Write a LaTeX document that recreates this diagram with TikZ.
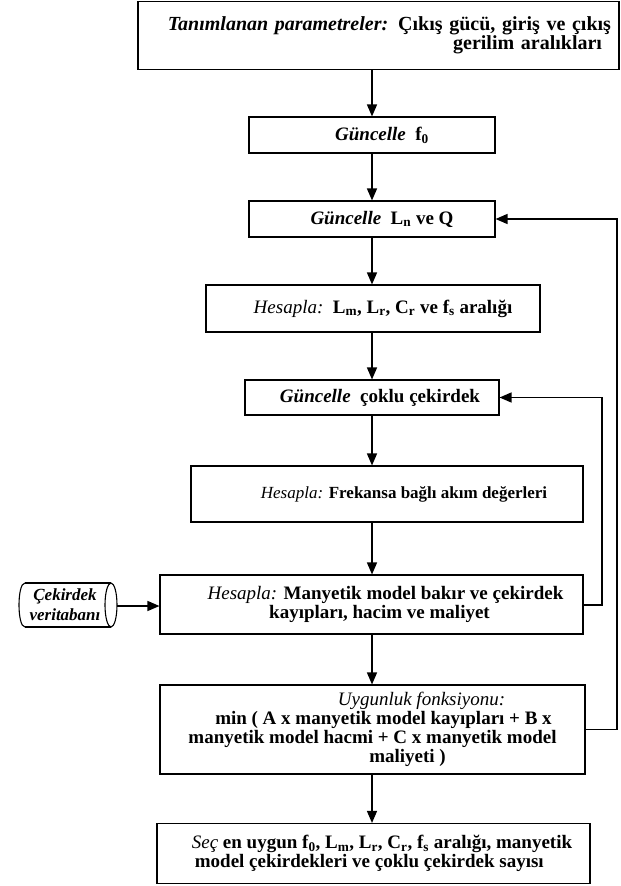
\documentclass[tikz,border=0pt]{standalone}
\usepackage{fontspec}
\setmainfont{Liberation Serif}
\usetikzlibrary{arrows.meta}
\newcommand\leadsp[1]{\hspace*{#1pt}}
\begin{document}
\begin{tikzpicture}[x=1pt,y=-1pt,
  box/.style={draw, line width=1.1pt, inner sep=2pt, font=\fontsize{19}{19}\selectfont\bfseries, align=center},
  dbtext/.style={inner sep=0pt, font=\fontsize{17}{20}\selectfont\bfseries\itshape, align=center},
  dbline/.style={line width=1.1pt},
  arr/.style={-{Triangle[length=12pt,width=10pt]}, line width=1.4pt}]
\useasboundingbox (0,0) rectangle (621,886);
\node[box, minimum width=481pt, minimum height=68pt, text width=465pt, align=right, font=\fontsize{20}{19}\selectfont\bfseries] (B1) at (378.5,35.5)
  {\textit{Tanımlanan parametreler:}\enspace Çıkış gücü, giriş ve çıkış\\ gerilim aralıkları\kern9pt};
\node[box, minimum width=246pt, minimum height=36pt] (B2) at (372,135)
  {\leadsp{20}\textit{Güncelle}\enspace f\textsubscript{0}};
\node[box, minimum width=246pt, minimum height=36pt] (B3) at (372,219)
  {\leadsp{20}\textit{Güncelle}\enspace L\textsubscript{n} ve Q};
\node[box, minimum width=334pt, minimum height=47pt] (B4) at (373,308.5)
  {\leadsp{20}\textit{\mdseries Hesapla:}\enspace L\textsubscript{m}, L\textsubscript{r}, C\textsubscript{r} ve f\textsubscript{s} aralığı};
\node[box, minimum width=254pt, minimum height=35pt] (B5) at (372,397.5)
  {\leadsp{16}\textit{Güncelle}\enspace çoklu çekirdek};
\node[box, minimum width=392pt, minimum height=56pt, font=\fontsize{17}{19}\selectfont\bfseries] (B6) at (387,494)
  {\leadsp{34}\textit{\mdseries Hesapla:} Frekansa bağlı akım değerleri};
\node[box, minimum width=423pt, minimum height=59pt] (B7) at (371.5,604.5)
  {\leadsp{28}\textit{\mdseries Hesapla:} Manyetik model bakır ve çekirdek\\ \leadsp{16}kayıpları, hacim ve maliyet};
\node[box, minimum width=425pt, minimum height=89pt] (B8) at (372.5,729.5)
  {\leadsp{98}\textit{\mdseries Uygunluk fonksiyonu:}\\ \leadsp{22}min ( A x manyetik model kayıpları + B x\\ manyetik model hacmi + C x manyetik model\\ \leadsp{70}maliyeti )};
\node[box, minimum width=433pt, minimum height=60pt, align=left] (B9) at (373.5,853.5)
  {\leadsp{17}\textit{\mdseries Seç} en uygun f\textsubscript{0}, L\textsubscript{m}, L\textsubscript{r}, C\textsubscript{r}, f\textsubscript{s} aralığı, manyetik\\ \leadsp{20}model çekirdekleri ve çoklu çekirdek sayısı};
% database (horizontal cylinder)
\node[dbtext, minimum width=99pt, minimum height=44pt] (DB) at (65,605) {Çekirdek\\ veritabanı};
\draw[dbline] (25,583) -- (111,583);
\draw[dbline] (25,627) -- (111,627);
\draw[dbline] (25,583) .. controls (17,583) and (17,627) .. (25,627);
\draw[dbline] (111,605) ellipse [x radius=6, y radius=22];
\coordinate (DBe) at (117,606);
% main flow
\draw[arr] (B2.north |- B1.south) -- (B2.north);
\draw[arr] (B2.south) -- (B3.north);
\draw[arr] (B3.south) -- (B3.south |- B4.north);
\draw[arr] (B3.south |- B4.south) -- (B5.north);
\draw[arr] (B5.south) -- (B5.south |- B6.north);
\draw[arr] (B5.south |- B6.south) -- (B5.south |- B7.north);
\draw[arr] (B5.south |- B7.south) -- (B5.south |- B8.north);
\draw[arr] (B5.south |- B8.south) -- (B5.south |- B9.north);
\draw[arr] (DBe) -- (B7.west |- DBe);
% feedback loops
\coordinate (F1a) at (602,605);
\coordinate (F2a) at (617,729.5);
\draw[arr] (B7.east |- F1a) -- (F1a) -- (F1a |- B5.east) -- (B5.east);
\draw[arr] (B8.east) -- (F2a) -- (F2a |- B3.east) -- (B3.east);
\end{tikzpicture}
\end{document}
